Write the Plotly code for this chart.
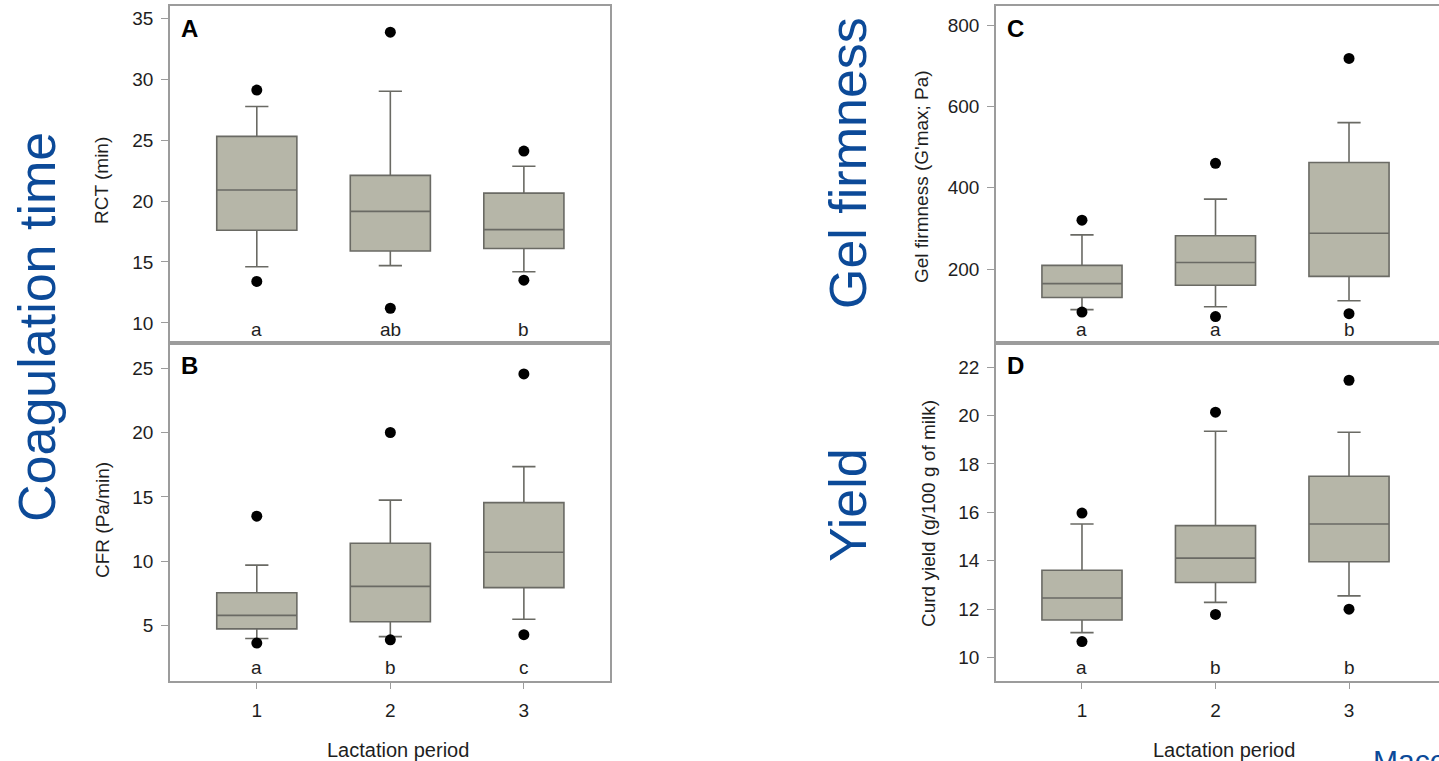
import plotly.graph_objects as go

periods = [1, 2, 3]

# A: rennet coagulation time, RCT (min)
rct_lower = [14.6, 14.7, 14.2]
rct_q1 = [17.6, 15.9, 16.1]
rct_median = [20.9, 19.15, 17.65]
rct_q3 = [25.3, 22.1, 20.65]
rct_upper = [27.75, 29.0, 22.85]
rct_out_low = [13.4, 11.2, 13.5]
rct_out_high = [29.1, 33.85, 24.1]
rct_letters = ["a", "ab", "b"]

# B: curd firming rate, CFR (Pa/min)
cfr_lower = [4.0, 4.15, 5.5]
cfr_q1 = [4.75, 5.3, 7.95]
cfr_median = [5.8, 8.05, 10.7]
cfr_q3 = [7.55, 11.4, 14.55]
cfr_upper = [9.7, 14.75, 17.35]
cfr_out_low = [3.65, 3.9, 4.3]
cfr_out_high = [13.5, 20.0, 24.55]
cfr_letters = ["a", "b", "c"]

# C: gel firmness, G'max (Pa)
gel_lower = [100, 107, 122]
gel_q1 = [130, 160, 182]
gel_median = [164, 216, 288]
gel_q3 = [209, 282, 462]
gel_upper = [284, 372, 560]
gel_out_low = [94, 83, 90]
gel_out_high = [320, 460, 718]
gel_letters = ["a", "a", "b"]

# D: curd yield (g/100 g of milk)
cy_lower = [11.03, 12.28, 12.55]
cy_q1 = [11.55, 13.1, 13.96]
cy_median = [12.46, 14.11, 15.52]
cy_q3 = [13.61, 15.45, 17.49]
cy_upper = [15.52, 19.35, 19.31]
cy_out_low = [10.66, 11.78, 12.0]
cy_out_high = [15.97, 20.14, 21.46]
cy_letters = ["a", "b", "b"]

y_ticks_rct = [10, 15, 20, 25, 30, 35]
y_ticks_cfr = [5, 10, 15, 20, 25]
y_ticks_gel = [200, 400, 600, 800]
y_ticks_cy = [10, 12, 14, 16, 18, 20, 22]

FONT = "Arial, 'Liberation Sans', sans-serif"
TXT = "#1e1e1e"
BOX_FILL = "#b6b6a8"
BOX_LINE = "#6a6a64"
FRAME = "#9c9c9c"
BLUE = "#0c4a98"

W, H = 1439, 761


def px_x(p):
    return p / W


def px_y(p):
    return 1 - p / H


panels = [
    dict(ax="", lower=rct_lower, q1=rct_q1, med=rct_median, q3=rct_q3, upper=rct_upper,
         lo=rct_out_low, hi=rct_out_high, letters=rct_letters, tag="A"),
    dict(ax="2", lower=cfr_lower, q1=cfr_q1, med=cfr_median, q3=cfr_q3, upper=cfr_upper,
         lo=cfr_out_low, hi=cfr_out_high, letters=cfr_letters, tag="B"),
    dict(ax="3", lower=gel_lower, q1=gel_q1, med=gel_median, q3=gel_q3, upper=gel_upper,
         lo=gel_out_low, hi=gel_out_high, letters=gel_letters, tag="C"),
    dict(ax="4", lower=cy_lower, q1=cy_q1, med=cy_median, q3=cy_q3, upper=cy_upper,
         lo=cy_out_low, hi=cy_out_high, letters=cy_letters, tag="D"),
]

fig = go.Figure()
annotations = []

for p in panels:
    xa = "x" + p["ax"]
    ya = "y" + p["ax"]
    fig.add_trace(go.Box(
        x=periods, q1=p["q1"], median=p["med"], q3=p["q3"],
        lowerfence=p["lower"], upperfence=p["upper"],
        width=0.6, whiskerwidth=0.29,
        fillcolor=BOX_FILL, line=dict(color=BOX_LINE, width=1.6),
        boxpoints=False, hoverinfo="skip", showlegend=False,
        xaxis=xa, yaxis=ya,
    ))
    fig.add_trace(go.Scatter(
        x=periods + periods, y=p["lo"] + p["hi"], mode="markers",
        marker=dict(color="black", size=11),
        hoverinfo="skip", showlegend=False, xaxis=xa, yaxis=ya,
    ))
    dom_y = "y" + p["ax"] + " domain"
    dom_x = "x" + p["ax"] + " domain"
    for xv, letter in zip(periods, p["letters"]):
        annotations.append(dict(
            x=xv, xref=xa, y=0, yref=dom_y, yanchor="bottom", xanchor="center",
            text=letter, showarrow=False, yshift=1,
            font=dict(family=FONT, size=19, color=TXT),
        ))
    annotations.append(dict(
        x=0, xref=dom_x, y=1, yref=dom_y, xanchor="left", yanchor="top",
        xshift=9, yshift=-7, text="<b>" + p["tag"] + "</b>", showarrow=False,
        font=dict(family=FONT, size=24, color="black"),
    ))

tick_font = dict(family=FONT, size=19, color=TXT)

common_y = dict(
    showgrid=False, zeroline=False, showline=True, linecolor=FRAME, linewidth=1.5,
    ticks="outside", ticklen=7, tickcolor=FRAME, tickwidth=1.2, tickfont=tick_font,
    ticklabelstandoff=4,
)
common_x = dict(
    showgrid=False, zeroline=False, showline=True, linecolor=FRAME, linewidth=1.5,
    mirror=True, tickvals=periods, ticktext=[str(v) for v in periods],
    tickfont=tick_font,
)

left_dom = [px_x(170), px_x(610)]
right_dom = [px_x(996), 1.0]
top_dom = [px_y(343), px_y(6)]
bot_dom = [px_y(681), px_y(343)]

fig.update_layout(
    width=W, height=H,
    margin=dict(l=0, r=0, t=0, b=0),
    paper_bgcolor="white", plot_bgcolor="white",
    font=dict(family=FONT, color=TXT),
    xaxis=dict(common_x, domain=left_dom, range=[0.35, 3.645], anchor="y",
               ticks="", showticklabels=False),
    yaxis=dict(common_y, domain=top_dom, range=[8.35, 36.0], anchor="x",
               tickvals=y_ticks_rct, mirror=True),
    xaxis2=dict(common_x, domain=left_dom, range=[0.35, 3.645], anchor="y2",
                ticks="outside", ticklen=6, tickcolor=FRAME, ticklabelstandoff=5),
    yaxis2=dict(common_y, domain=bot_dom, range=[0.7, 26.95], anchor="x2",
                tickvals=y_ticks_cfr, mirror=True),
    xaxis3=dict(common_x, domain=right_dom, range=[0.356, 3.674], anchor="y3",
                ticks="", showticklabels=False),
    yaxis3=dict(common_y, domain=top_dom, range=[18, 847], anchor="x3",
                tickvals=y_ticks_gel),
    xaxis4=dict(common_x, domain=right_dom, range=[0.356, 3.674], anchor="y4",
                ticks="outside", ticklen=6, tickcolor=FRAME, ticklabelstandoff=5),
    yaxis4=dict(common_y, domain=bot_dom, range=[9.03, 23.0], anchor="x4",
                tickvals=y_ticks_cy),
)

title_font = dict(family=FONT, size=19, color=TXT)
xtitle_font = dict(family=FONT, size=20, color=TXT)
big_font = dict(family=FONT, size=52, color=BLUE)

texts = [
    ("RCT (min)", 102, 180, title_font, -90),
    ("CFR (Pa/min)", 102, 520, title_font, -90),
    ("Gel firmness (G'max; Pa)", 921, 176, title_font, -90),
    ("Curd yield (g/100 g of milk)", 928, 514, title_font, -90),
    ("Lactation period", 398, 750, xtitle_font, 0),
    ("Lactation period", 1224, 750, xtitle_font, 0),
    ("Coagulation time", 37, 327, big_font, -90),
    ("Gel firmness", 848, 163, big_font, -90),
    ("Yield", 848, 505, big_font, -90),
]
for t, x, y, f, ang in texts:
    annotations.append(dict(
        text=t, x=px_x(x), y=px_y(y), xref="paper", yref="paper",
        xanchor="center", yanchor="middle", textangle=ang,
        showarrow=False, font=f,
    ))

# Author credit running off the lower right corner
annotations.append(dict(
    text="Macciotta", x=px_x(1371), y=px_y(742), xref="paper", yref="paper",
    xanchor="left", yanchor="top", showarrow=False,
    font=dict(family=FONT, size=30, color=BLUE),
))

fig.update_layout(annotations=annotations)
fig.write_html("out.html")
